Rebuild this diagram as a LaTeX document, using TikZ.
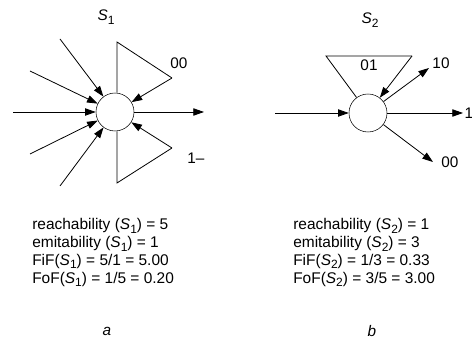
\documentclass[tikz,border=0pt]{standalone}
\usepackage{fontspec}
\setmainfont{Liberation Sans}
\usetikzlibrary{arrows.meta,positioning}
\newcommand{\Ssub}[1]{\textit{S}\raisebox{-0.45ex}{\small #1}}

\begin{document}
\begin{tikzpicture}[
  x=0.75pt, y=-0.75pt,
  state/.style={circle, draw, thin, minimum size=28.5pt, inner sep=0pt},
  arr/.style={-{Triangle[length=8pt,width=5.5pt]}, line width=0.6pt},
  lin/.style={line width=0.6pt},
  lbl/.style={font=\fontsize{11.5}{13}\selectfont, inner sep=0pt},
  stats/.style={font=\fontsize{11.6}{13.4}\selectfont, align=left,
                anchor=north west, inner sep=0pt}
]
\useasboundingbox (0,0) rectangle (472,341);

% States
\node[state] (c1) at (115,112) {};
\node[state] (c2) at (368,113) {};

\node[lbl] (s1) at (106,17) {\Ssub{1}};
\node[lbl] (s2) at (370,20) {\Ssub{2}};

% Fan-in of S1
\coordinate (in1) at (60,39);
\coordinate (in2) at (30,71);
\coordinate (in3) at (13,112);
\coordinate (in4) at (30,154);
\coordinate (in5) at (60,186);
\foreach \p in {in1,in2,in3,in4,in5}
  \draw[arr] (\p) -- (c1);
\coordinate (out1) at (204,112);
\draw[arr] (c1) -- (out1);

% Loops of S1
\coordinate (ua) at (117,42);
\coordinate (ub) at (172,78);
\coordinate (la) at (117,183);
\coordinate (lb) at (172,148);
\draw[lin] (c1.north) ++(2,0) -- (ua) -- (ub);
\draw[arr] (ub) -- (c1);
\draw[lin] (c1.south) ++(2,0) -- (la) -- (lb);
\draw[arr] (lb) -- (c1);
\node[lbl] (l00a) at (179,63) {00};
\node[lbl] (l1x) at (196,158) {1--};

% S2
\coordinate (in6) at (275,113);
\draw[arr] (in6) -- (c2);
\coordinate (ta) at (326,56);
\coordinate (tb) at (412,56);
\draw[lin] (c2) -- (ta) -- (tb);
\draw[arr] (tb) -- (c2);
\node[lbl] (l01) at (369,65) {01};

\coordinate (o10) at (429,68);
\coordinate (o1)  at (463,113);
\coordinate (o00) at (433,162);
\draw[arr] (c2) -- (o10);
\draw[arr] (c2) -- (o1);
\draw[arr] (c2) -- (o00);
\node[lbl] (l10) at (441,63) {10};
\node[lbl] (l1) at (469,113) {1};
\node[lbl] (l00b) at (450,162) {00};

% Figures
\node[stats] (t1) at (32,218) {%
  reachability (\Ssub{1}) = 5\\
  emitability (\Ssub{1}) = 1\\
  FiF(\Ssub{1}) = 5/1 = 5.00\\
  FoF(\Ssub{1}) = 1/5 = 0.20};
\node[stats] (t2) at (293,218) {%
  reachability (\Ssub{2}) = 1\\
  emitability (\Ssub{2}) = 3\\
  FiF(\Ssub{2}) = 1/3 = 0.33\\
  FoF(\Ssub{2}) = 3/5 = 3.00};

\node[lbl] (ca) at (107,331) {\textit{a}};
\node[lbl] (cb) at (372,331) {\textit{b}};
\end{tikzpicture}
\end{document}
